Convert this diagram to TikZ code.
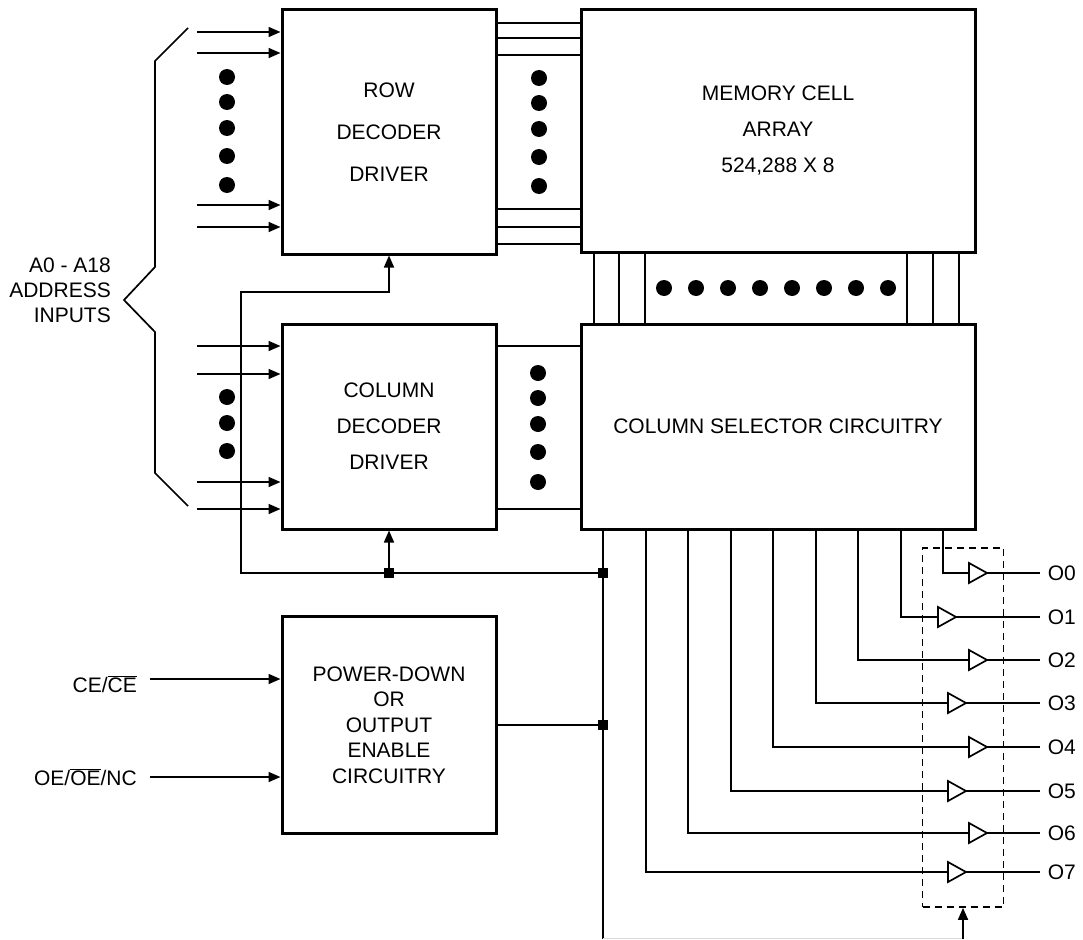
\documentclass[tikz,border=0pt]{standalone}
\usepackage{fontspec}
\setmainfont{Liberation Sans}
\usetikzlibrary{arrows.meta}
\tikzset{
  blk/.style={draw, line width=3pt, inner sep=0pt, align=center, font=\fontsize{21}{36}\selectfont},
  wire/.style={line width=1.7pt},
  arr/.style={wire, -{Triangle[length=12pt,width=10pt]}},
  jn/.style={fill=black, minimum size=10pt, inner sep=0pt}
}
\begin{document}
\begin{tikzpicture}[x=1pt,y=-1pt,font=\fontsize{21}{25}\selectfont]
\useasboundingbox (0,0) rectangle (1083,939);
%\draw[help lines] (0,0) grid (1083,939);
\node[blk, minimum width=214pt, minimum height=244pt, font=\fontsize{21}{42}\selectfont] (row) at (389,132) {ROW\\DECODER\\DRIVER};
\node[blk, minimum width=394pt, minimum height=242pt] (mem) at (778,131) {MEMORY CELL\\ARRAY\\524,288 X 8};
\node[blk, minimum width=214pt, minimum height=205pt] (col) at (389,426.5) {COLUMN\\DECODER\\DRIVER};
\node[blk, minimum width=394pt, minimum height=205pt] (sel) at (778,426.5) {COLUMN SELECTOR CIRCUITRY};
\node[blk, minimum width=214pt, minimum height=217pt, font=\fontsize{21}{25.5}\selectfont] (pwr) at (389,725) {POWER-DOWN\\OR\\OUTPUT\\ENABLE\\CIRCUITRY};
\node[draw, wire, dash pattern=on 7pt off 5pt, minimum width=81pt, minimum height=359pt] (obuf) at (963,727.5) {};
\node[anchor=east, align=right, inner sep=0pt] (addr) at (111,290) {A0 - A18\\ADDRESS\\INPUTS};
\node[anchor=base east, inner sep=0pt] (celbl) at (137,692) {CE/$\overline{\mbox{CE}}$};
\node[anchor=base east, inner sep=0pt] (oelbl) at (137,785) {OE/$\overline{\mbox{OE}}$/NC};
\node[jn] (jcol) at (389,573) {};
\node[jn] (jsel) at (603,573) {};
\node[jn] (jpwr) at (603,725) {};
\coordinate (cl) at (241,573);
\coordinate (cu) at (241,292);
\coordinate (bb) at (603,939);
\coordinate (bt) at (603,938);
\coordinate (ce) at (150,679);
\coordinate (oe) at (150,777);
% address bracket
\draw[wire] (188,28) -- (155,61) -- (155,267) -- (124,300) -- (155,332) -- (155,473) -- (188,506);
\foreach \y [count=\i] in {32,53,205,227} {
  \coordinate (ra\i) at (197,\y);
  \draw[arr] (ra\i) -- (ra\i -| row.west);
}
\foreach \y [count=\i] in {346,374,482,509} {
  \coordinate (ca\i) at (197,\y);
  \draw[arr] (ca\i) -- (ca\i -| col.west);
}
\foreach \y in {77,102,128,156,185} \fill (227,\y) circle (8pt);
\foreach \y in {78,103,129,157,186} \fill (539,\y) circle (8pt);
\foreach \y in {397,423,451} \fill (227,\y) circle (8pt);
\foreach \y in {373,398,424,452,482} \fill (538,\y) circle (8pt);
\foreach \x in {664,696,728,760,792,824,856,888} \fill (\x,288) circle (8pt);
\foreach \y in {23,38,55,209,227,244} \draw[wire] (row.east |- 0,\y) -- (mem.west |- 0,\y);
\foreach \y in {346,509} \draw[wire] (col.east |- 0,\y) -- (sel.west |- 0,\y);
\foreach \x in {594,619,645,907,933,959} \draw[wire] (mem.south -| \x,0) -- (sel.north -| \x,0);
% control lines
\draw[arr] (jsel) -- (cl) -- (cu) -| (row.south);
\draw[arr] (jcol) -- (col.south);
\draw[wire] (sel.south -| bb) -- (bb);
\draw[line width=1pt, gray!30] (bt) -- (bt -| obuf.south);
\draw[arr] (obuf.south |- bb) -- (obuf.south);
\draw[arr] (ce) -- (ce -| pwr.west);
\draw[arr] (oe) -- (oe -| pwr.west);
\draw[wire] (pwr.east) -- (jpwr);
% outputs
\foreach \sx/\oy/\bl [count=\i from 0] in {943/573/969, 901/617/938, 858/660/969, 816/703/948, 773/747/969, 731/791/948, 688/833/969, 646/872/948} {
  \coordinate (b\i) at (\bl,\oy);
  \draw[wire] (sel.south -| \sx,0) |- (b\i);
  \draw[wire] (b\i) ++(0,-10) -- ++(18,10) coordinate (t\i) -- ++(-18,10) -- cycle;
  \draw[wire] (t\i) -- (1040,\oy) node[anchor=west, inner sep=0pt, xshift=7pt] (o\i) {O\i};
}
\end{tikzpicture}
\end{document}
